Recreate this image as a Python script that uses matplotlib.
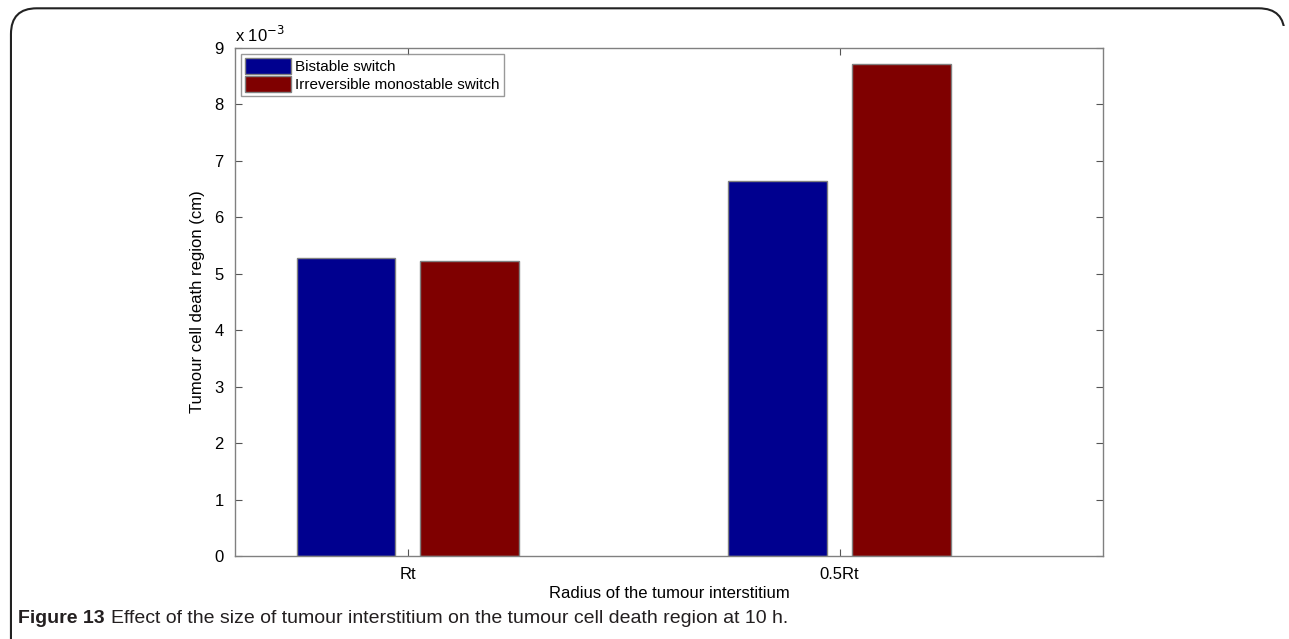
import matplotlib.pyplot as plt
import numpy as np
from matplotlib.patches import FancyBboxPatch

# tumour cell death region (cm) at 10 h
categories = ['Rt', '0.5Rt']
bistable = [5.275e-3, 6.65e-3]
irreversible = [5.232e-3, 8.72e-3]
series_names = ['Bistable switch', 'Irreversible monostable switch']
yticks = [0, 1, 2, 3, 4, 5, 6, 7, 8, 9]

blue = '#00008f'
red = '#7f0000'
edge = '#808080'

plt.rcParams['font.family'] = ['Liberation Sans', 'DejaVu Sans']

fig = plt.figure(figsize=(12.89, 6.39), dpi=100)
ax = fig.add_axes([0.1823, 0.1299, 0.6734, 0.795])

x = np.arange(1, len(categories) + 1)
w = 0.229
ax.bar(x - 0.143, bistable, w, color=blue, edgecolor=edge, linewidth=1, label=series_names[0])
ax.bar(x + 0.143, irreversible, w, color=red, edgecolor=edge, linewidth=1, label=series_names[1])

ax.set_xlim(0.6, 2.61)
ax.set_ylim(0, 9e-3)
ax.set_xticks(x)
ax.set_xticklabels(categories)
ax.set_yticks([t * 1e-3 for t in yticks])
ax.set_yticklabels([str(t) for t in yticks])
ax.tick_params(direction='in', length=5, width=0.8, color='#555555',
               top=True, right=True, labelsize=12, pad=8)
for s in ax.spines.values():
    s.set_color('#808080')
    s.set_linewidth(1)

ax.text(0.0, 1.005, r'x 10$^{-3}$', transform=ax.transAxes, fontsize=12, va='bottom', ha='left')
ax.set_xlabel('Radius of the tumour interstitium', fontsize=12, labelpad=3)
ax.set_ylabel('Tumour cell death region (cm)', fontsize=12, labelpad=7)

leg = ax.legend(loc='upper left', fontsize=11, frameon=True, fancybox=False,
                handlelength=3.0, handleheight=1.25, handletextpad=0.3,
                borderpad=0.25, labelspacing=0.1, borderaxespad=0.4)
leg.get_frame().set_edgecolor('#808080')
leg.get_frame().set_linewidth(1)

# page frame around the figure
frame = FancyBboxPatch((0.0085, -0.2), 0.988, 1.187, boxstyle='round,pad=0,rounding_size=0.02',
                       transform=fig.transFigure, fill=False, edgecolor='#222222', linewidth=1.5,
                       mutation_aspect=1289 / 639, clip_on=False)
fig.patches.append(frame)
fig.patches.append(plt.Rectangle((0.99, -0.01), 0.02, 0.97, transform=fig.transFigure,
                                 facecolor='white', edgecolor='none'))

# caption: bold label, then the description right after it
cap_color = '#231f20'
label = fig.text(0.014, 0.025, 'Figure 13', fontsize=14, fontweight='bold', color=cap_color)
fig.canvas.draw()
bb = label.get_window_extent()
fig.text((bb.x1 + 6) / fig.bbox.width, 0.025,
         'Effect of the size of tumour interstitium on the tumour cell death region at 10 h.',
         fontsize=14, color=cap_color)

fig.savefig('out.png', dpi=100)
